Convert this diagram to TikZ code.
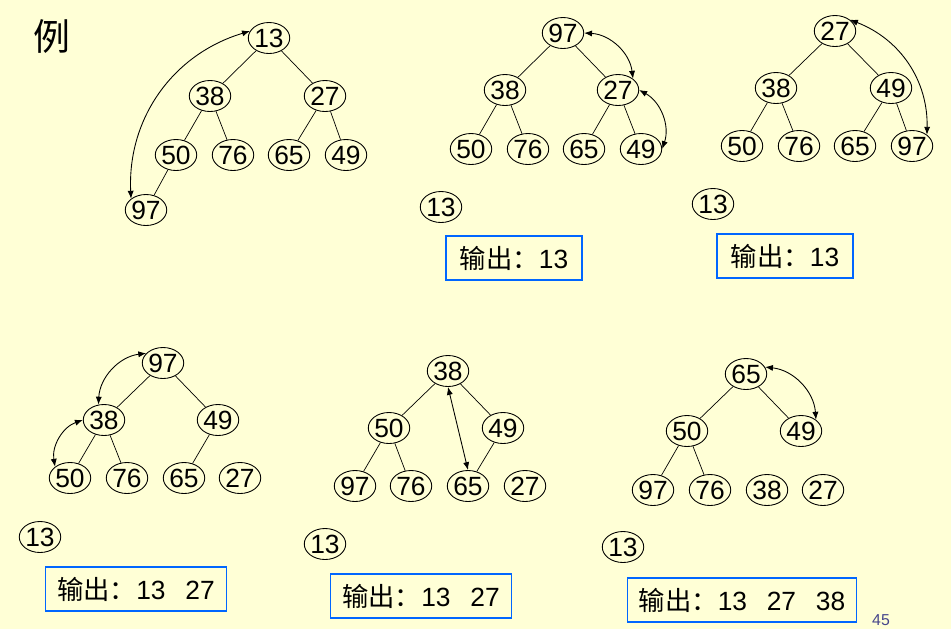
\documentclass[tikz,border=0pt]{standalone}
\usepackage{fontspec}
\setmainfont{Liberation Sans}
\newfontfamily\cjk{Noto Sans CJK SC}
\usetikzlibrary{shapes.geometric,arrows.meta,positioning}

\definecolor{slidebg}{RGB}{255,255,214}
\definecolor{boxblue}{RGB}{0,102,255}
\definecolor{pagenum}{RGB}{70,70,140}

\begin{document}
\begin{tikzpicture}[
  x=0.02cm, y=-0.02cm,
  key/.style={
    ellipse, draw=black, line width=0.5pt,
    minimum width=0.74cm, minimum height=0.62cm, inner sep=0pt,
    font=\fontsize{15}{16}\selectfont,
  },
  link/.style={line width=0.4pt},
  xchg/.style={{Latex[length=4.5pt,width=3.5pt]}-{Latex[length=4.5pt,width=3.5pt]}, line width=0.5pt},
  outbox/.style={
    rectangle, draw=boxblue, line width=0.6pt,
    minimum height=0.88cm, inner sep=0pt,
    font=\fontsize{15}{17}\selectfont,
  },
]
\useasboundingbox (0,0) rectangle (951,629);
\fill[slidebg] (0,0) rectangle (951,629);

\node[font=\cjk\fontsize{21}{24}\selectfont] (title) at (52,37) {例};

\node[key] (a13) at (269,38)  {13};
\node[key] (a38) at (210,96)  {38};
\node[key] (a27) at (325,96)  {27};
\node[key] (a50) at (176,155) {50};
\node[key] (a76) at (233,155) {76};
\node[key] (a65) at (289,155) {65};
\node[key] (a49) at (346,155) {49};
\node[key] (a97) at (146,210) {97};

\node[key] (b97) at (563,33)  {97};
\node[key] (b38) at (505,90)  {38};
\node[key] (b27) at (618,90)  {27};
\node[key] (b50) at (471,149) {50};
\node[key] (b76) at (528,149) {76};
\node[key] (b65) at (584,149) {65};
\node[key] (b49) at (641,149) {49};
\node[key] (b13) at (441,207) {13};
\node[outbox, minimum width=2.72cm] (bout) at (514,258) {{\cjk 输出：}13};

\node[key] (c27) at (835,31)  {27};
\node[key] (c38) at (776,88)  {38};
\node[key] (c49) at (891,88)  {49};
\node[key] (c50) at (742,146) {50};
\node[key] (c76) at (799,146) {76};
\node[key] (c65) at (855,146) {65};
\node[key] (c97) at (912,146) {97};
\node[key] (c13) at (713,204) {13};
\node[outbox, minimum width=2.72cm] (cout) at (785,256) {{\cjk 输出：}13};

\node[key] (d97) at (163,363) {97};
\node[key] (d38) at (104,420) {38};
\node[key] (d49) at (218,420) {49};
\node[key] (d50) at (70,478)  {50};
\node[key] (d76) at (127,478) {76};
\node[key] (d65) at (184,478) {65};
\node[key] (d27) at (240,478) {27};
\node[key] (d13) at (40,537)  {13};
\node[outbox, minimum width=3.62cm] (dout) at (136,589) {{\cjk 输出：}13\hspace{0.75em}27};

\node[key] (e38) at (448,371) {38};
\node[key] (e50) at (389,428) {50};
\node[key] (e49) at (503,428) {49};
\node[key] (e97) at (355,486) {97};
\node[key] (e76) at (411,486) {76};
\node[key] (e65) at (468,486) {65};
\node[key] (e27) at (525,486) {27};
\node[key] (e13) at (325,544) {13};
\node[outbox, minimum width=3.62cm] (eout) at (421,596) {{\cjk 输出：}13\hspace{0.75em}27};

\node[key] (f65) at (746,374) {65};
\node[key] (f50) at (687,431) {50};
\node[key] (f49) at (801,431) {49};
\node[key] (f97) at (653,490) {97};
\node[key] (f76) at (710,490) {76};
\node[key] (f38) at (767,490) {38};
\node[key] (f27) at (823,490) {27};
\node[key] (f13) at (623,547) {13};
\node[outbox, minimum width=4.58cm] (fout) at (742,600) {{\cjk 输出：}13\hspace{0.75em}27\hspace{0.75em}38};

\node[font=\fontsize{9}{10}\selectfont, text=pagenum] (pnum) at (881,620) {45};

\draw[link] (a13) -- (a38);
\draw[link] (a13) -- (a27);
\draw[link] (a38) -- (a50);
\draw[link] (a38) -- (a76);
\draw[link] (a27) -- (a65);
\draw[link] (a27) -- (a49);
\draw[link] (a50) -- (a97);
\draw[xchg] (a97.north west) to[bend left=38] (a13.160);

\draw[link] (b97) -- (b38);
\draw[link] (b97) -- (b27);
\draw[link] (b38) -- (b50);
\draw[link] (b38) -- (b76);
\draw[link] (b27) -- (b65);
\draw[link] (b27) -- (b49);
\draw[xchg] (b97.east) to[bend left=40] (b27.north east);
\draw[xchg] (b27.east) to[bend left=40] (b49.east);

\draw[link] (c27) -- (c38);
\draw[link] (c27) -- (c49);
\draw[link] (c38) -- (c50);
\draw[link] (c38) -- (c76);
\draw[link] (c49) -- (c65);
\draw[link] (c49) -- (c97);
\draw[xchg] (c27.north east) to[bend left=35] (c97.north east);

\draw[link] (d97) -- (d38);
\draw[link] (d97) -- (d49);
\draw[link] (d38) -- (d50);
\draw[link] (d38) -- (d76);
\draw[link] (d49) -- (d65);
\draw[xchg] (d97.150) to[bend right=40] (d38.110);
\draw[xchg] (d38.west) to[bend right=40] (d50.north west);

\draw[link] (e38) -- (e50);
\draw[link] (e38) -- (e49);
\draw[link] (e50) -- (e97);
\draw[link] (e50) -- (e76);
\draw[link] (e49) -- (e65);
\draw[xchg] (e38.south) -- (e65.north);

\draw[link] (f65) -- (f50);
\draw[link] (f65) -- (f49);
\draw[link] (f50) -- (f97);
\draw[link] (f50) -- (f76);
\draw[xchg] (f65.20) to[bend left=40] (f49.north east);
\end{tikzpicture}
\end{document}
